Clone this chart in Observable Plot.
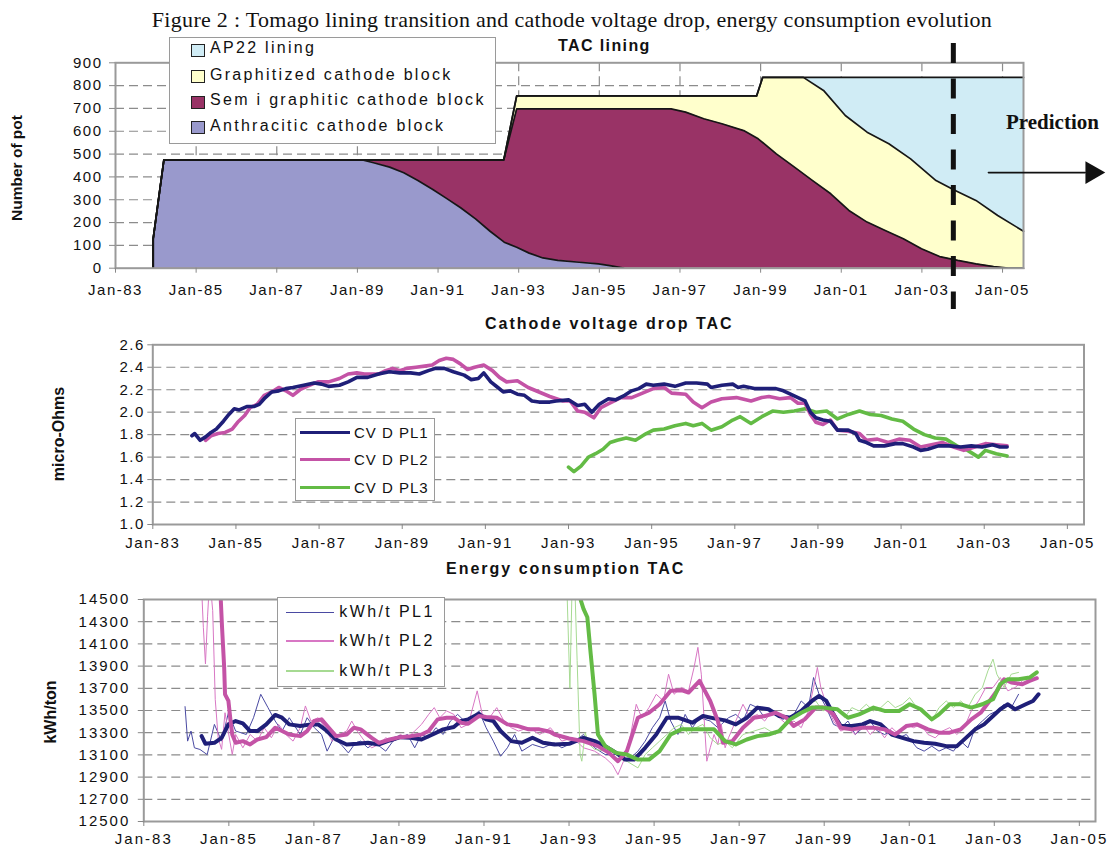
<!DOCTYPE html>
<html><head><meta charset="utf-8">
<script src="https://cdn.jsdelivr.net/npm/d3@7"></script>
<script src="https://cdn.jsdelivr.net/npm/@observablehq/plot@0.6"></script>
<style>
body{margin:0;background:#fff;}
#fig{position:relative;width:1108px;height:852px;overflow:hidden;background:#fff;color:#111;font-family:"Liberation Sans",Arial,sans-serif;}
.txt{position:absolute;white-space:nowrap;line-height:1;}
.box{position:absolute;background:#fff;border:1.5px solid #9a9a9a;box-sizing:border-box;}
.sw{position:absolute;box-sizing:border-box;border:1.2px solid #222;}
.ln{position:absolute;}
</style></head>
<body><div id="fig"></div>
<script>
// ---------- tick labels ----------
const yearTicks = [1983,1985,1987,1989,1991,1993,1995,1997,1999,2001,2003,2005];
const yearLabels = ["Jan-83","Jan-85","Jan-87","Jan-89","Jan-91","Jan-93","Jan-95","Jan-97","Jan-99","Jan-01","Jan-03","Jan-05"];
const potTicks = [0,100,200,300,400,500,600,700,800,900];
const cvdTicks = [1.0,1.2,1.4,1.6,1.8,2.0,2.2,2.4,2.6];
const kwhTicks = [12500,12700,12900,13100,13300,13500,13700,13900,14100,14300,14500];

// ---------- panel 1: number of pots (cumulative layer tops), [year, pots] ----------
const liningTotal = [[1983.935,0],[1983.935,130],[1984.2,475],[1992.63,475],[1992.95,755],[1998.9,755],[1999.05,836],[2005.52,836]];
const graphitizedTop = [[1983.935,0],[1983.935,130],[1984.2,475],[1992.63,475],[1992.95,755],[1998.9,755],[1999.05,836],[2000.06,836],[2000.56,779],[2001.1,669],[2001.64,596],[2002.18,545],[2002.72,479],[2003.35,384],[2003.8,343],[2004.34,297],[2004.88,231],[2005.52,162]];
const semigraphiticTop = [[1983.935,0],[1983.935,130],[1984.2,475],[1992.63,475],[1992.95,698],[1996.78,698],[1997.14,684],[1997.59,655],[1998.04,633],[1998.58,603],[1998.94,567],[1999.39,501],[1999.84,443],[2000.29,384],[2000.74,326],[2001.19,253],[2001.64,202],[2002.09,165],[2002.54,129],[2002.99,85],[2003.44,51],[2003.89,34],[2004.34,19],[2004.78,7],[2005.14,0],[2005.52,0]];
const anthraciticTop = [[1983.935,0],[1983.935,130],[1984.2,475],[1989.1,475],[1989.4,462],[1989.8,443],[1990.15,418],[1990.5,384],[1990.87,345],[1991.2,307],[1991.56,265],[1991.93,216],[1992.29,162],[1992.64,114],[1992.95,92],[1993.26,66],[1993.6,45],[1993.97,34],[1994.5,26],[1994.98,19],[1995.3,10],[1995.6,0]];
const liningNames = ["AP22 lining","Graphitized cathode block","Sem i graphitic cathode block","Anthracitic cathode block"];
const liningColors = ["#d0ecf5","#ffffcc","#993366","#9999cc"];
const predictionYear = 2003.78;
const predictionArrow = [[2004.65,419],[2007.05,419]];
const arrowHead = [[2007.22,419]];

// ---------- panel 2: cathode voltage drop, [year, micro-ohms] ----------
const cvdPL1 = [[1983.94,1.79],[1984.01,1.81],[1984.14,1.75],[1984.27,1.78],[1984.40,1.82],[1984.53,1.85],[1984.70,1.92],[1984.83,1.98],[1984.96,2.03],[1985.08,2.02],[1985.26,2.05],[1985.43,2.05],[1985.56,2.07],[1985.68,2.12],[1985.86,2.18],[1986.03,2.19],[1986.20,2.21],[1986.37,2.22],[1986.63,2.24],[1986.88,2.26],[1987.06,2.25],[1987.23,2.23],[1987.49,2.24],[1987.70,2.27],[1987.91,2.31],[1988.17,2.31],[1988.43,2.34],[1988.69,2.36],[1988.94,2.35],[1989.20,2.35],[1989.41,2.34],[1989.63,2.37],[1989.80,2.39],[1990.01,2.39],[1990.23,2.36],[1990.49,2.33],[1990.66,2.29],[1990.83,2.30],[1990.96,2.35],[1991.13,2.27],[1991.30,2.22],[1991.43,2.18],[1991.60,2.19],[1991.77,2.16],[1991.94,2.15],[1992.12,2.10],[1992.29,2.09],[1992.55,2.09],[1992.70,2.10],[1993.00,2.11],[1993.22,2.06],[1993.39,2.07],[1993.56,2.00],[1993.74,2.07],[1993.96,2.12],[1994.13,2.11],[1994.35,2.15],[1994.52,2.19],[1994.69,2.21],[1994.87,2.25],[1995.04,2.24],[1995.30,2.25],[1995.56,2.23],[1995.82,2.26],[1996.08,2.26],[1996.34,2.25],[1996.43,2.22],[1996.69,2.24],[1996.95,2.25],[1997.08,2.22],[1997.21,2.23],[1997.47,2.21],[1997.73,2.21],[1997.99,2.21],[1998.17,2.19],[1998.34,2.16],[1998.52,2.13],[1998.69,2.10],[1998.82,2.00],[1998.95,1.95],[1999.12,1.93],[1999.30,1.92],[1999.47,1.84],[1999.73,1.84],[1999.91,1.81],[2000.00,1.75],[2000.17,1.73],[2000.34,1.70],[2000.60,1.70],[2000.86,1.72],[2001.04,1.72],[2001.30,1.69],[2001.47,1.66],[2001.64,1.67],[2001.90,1.70],[2002.17,1.70],[2002.43,1.69],[2002.69,1.70],[2002.95,1.69],[2003.20,1.71],[2003.38,1.69],[2003.55,1.69]];
const cvdPL2 = [[1984.27,1.75],[1984.40,1.79],[1984.57,1.81],[1984.74,1.82],[1984.91,1.85],[1985.04,1.91],[1985.21,1.97],[1985.34,2.04],[1985.51,2.07],[1985.68,2.15],[1985.86,2.18],[1986.03,2.22],[1986.20,2.19],[1986.37,2.15],[1986.54,2.20],[1986.71,2.23],[1986.97,2.27],[1987.23,2.27],[1987.49,2.30],[1987.70,2.34],[1987.91,2.35],[1988.09,2.34],[1988.26,2.34],[1988.43,2.34],[1988.60,2.37],[1988.77,2.39],[1988.94,2.37],[1989.11,2.39],[1989.33,2.40],[1989.54,2.41],[1989.72,2.42],[1989.89,2.46],[1990.06,2.48],[1990.23,2.47],[1990.40,2.43],[1990.57,2.38],[1990.74,2.40],[1990.96,2.42],[1991.17,2.37],[1991.34,2.31],[1991.51,2.27],[1991.77,2.28],[1992.03,2.22],[1992.29,2.18],[1992.55,2.14],[1992.87,2.10],[1993.04,2.10],[1993.22,2.01],[1993.39,2.00],[1993.61,1.95],[1993.78,2.04],[1993.99,2.08],[1994.26,2.13],[1994.52,2.13],[1994.78,2.17],[1995.04,2.21],[1995.30,2.22],[1995.48,2.17],[1995.82,2.16],[1996.00,2.09],[1996.21,2.04],[1996.43,2.09],[1996.69,2.12],[1997.04,2.13],[1997.39,2.10],[1997.65,2.13],[1997.82,2.14],[1998.08,2.12],[1998.34,2.13],[1998.52,2.08],[1998.69,2.08],[1998.82,1.98],[1998.95,1.91],[1999.12,1.89],[1999.30,1.93],[1999.47,1.84],[1999.73,1.83],[2000.00,1.81],[2000.17,1.75],[2000.43,1.76],[2000.69,1.73],[2000.95,1.76],[2001.21,1.75],[2001.47,1.69],[2001.73,1.71],[2001.99,1.73],[2002.26,1.69],[2002.51,1.66],[2002.77,1.69],[2003.03,1.72],[2003.29,1.71],[2003.55,1.70]];
const cvdPL3 = [[1993.00,1.51],[1993.13,1.47],[1993.30,1.52],[1993.48,1.60],[1993.65,1.63],[1993.83,1.67],[1994.00,1.73],[1994.17,1.75],[1994.39,1.77],[1994.61,1.75],[1994.87,1.81],[1995.04,1.84],[1995.30,1.85],[1995.56,1.88],[1995.82,1.90],[1996.00,1.88],[1996.21,1.90],[1996.43,1.84],[1996.69,1.87],[1996.95,1.93],[1997.13,1.96],[1997.39,1.90],[1997.65,1.96],[1997.91,2.01],[1998.17,2.00],[1998.43,2.01],[1998.69,2.03],[1998.95,2.00],[1999.21,2.01],[1999.47,1.94],[1999.73,1.98],[2000.00,2.01],[2000.26,1.98],[2000.52,1.97],[2000.78,1.94],[2001.04,1.92],[2001.30,1.85],[2001.56,1.80],[2001.82,1.77],[2002.08,1.76],[2002.34,1.70],[2002.60,1.66],[2002.86,1.60],[2003.03,1.66],[2003.29,1.63],[2003.55,1.61]];
const cvdNames = ["CV D PL1","CV D PL2","CV D PL3"];

// ---------- panel 3: energy consumption, [year, kWh/t] ----------
const kwhPL1 = [[1983.97,13535],[1984.03,13224],[1984.11,13315],[1984.19,13164],[1984.32,13149],[1984.49,13103],[1984.66,13375],[1984.83,13224],[1984.99,13480],[1985.16,13315],[1985.41,13284],[1985.58,13435],[1985.75,13646],[1985.92,13526],[1986.09,13405],[1986.25,13315],[1986.42,13435],[1986.68,13284],[1986.84,13435],[1987.01,13345],[1987.18,13284],[1987.31,13134],[1987.47,13254],[1987.64,13194],[1987.81,13118],[1987.98,13209],[1988.10,13224],[1988.27,13164],[1988.44,13209],[1988.69,13134],[1988.86,13224],[1989.03,13254],[1989.20,13284],[1989.37,13164],[1989.53,13284],[1989.70,13254],[1989.87,13345],[1990.04,13284],[1990.21,13405],[1990.38,13465],[1990.54,13405],[1990.71,13435],[1990.88,13496],[1991.05,13345],[1991.22,13224],[1991.39,13088],[1991.55,13164],[1991.72,13284],[1991.89,13134],[1992.14,13194],[1992.39,13164],[1992.65,13209],[1992.83,13164],[1993.09,13209],[1993.34,13284],[1993.60,13164],[1993.85,13103],[1994.11,13103],[1994.36,13043],[1994.62,13134],[1994.79,13224],[1994.96,13345],[1995.13,13435],[1995.26,13586],[1995.39,13405],[1995.56,13284],[1995.73,13465],[1995.90,13345],[1996.07,13435],[1996.32,13405],[1996.50,13345],[1996.75,13435],[1996.92,13465],[1997.09,13405],[1997.26,13556],[1997.43,13526],[1997.60,13435],[1997.77,13496],[1998.03,13420],[1998.29,13465],[1998.46,13586],[1998.63,13526],[1998.75,13797],[1998.88,13646],[1999.05,13526],[1999.22,13375],[1999.39,13345],[1999.56,13405],[1999.73,13284],[1999.91,13345],[2000.08,13405],[2000.25,13315],[2000.42,13284],[2000.59,13315],[2000.76,13254],[2000.93,13284],[2001.18,13164],[2001.35,13134],[2001.53,13179],[2001.70,13134],[2001.87,13164],[2002.04,13134],[2002.21,13224],[2002.38,13164],[2002.55,13345],[2002.72,13405],[2002.89,13465],[2003.06,13496],[2003.23,13556],[2003.40,13526],[2003.57,13646]];
const kwhPL2 = [[1984.36,14600],[1984.40,14250],[1984.45,13920],[1984.50,14350],[1984.55,14700],[1984.62,14400],[1984.68,13600],[1984.75,13250],[1984.83,13150],[1984.91,13480],[1984.99,13300],[1985.08,13103],[1985.16,13284],[1985.33,13164],[1985.50,13284],[1985.67,13224],[1985.83,13345],[1986.00,13254],[1986.17,13375],[1986.34,13284],[1986.51,13224],[1986.68,13345],[1986.80,13541],[1986.93,13405],[1987.10,13435],[1987.26,13345],[1987.43,13224],[1987.60,13284],[1987.77,13315],[1987.89,13405],[1988.02,13315],[1988.19,13224],[1988.36,13164],[1988.53,13194],[1988.69,13254],[1988.86,13224],[1989.03,13284],[1989.20,13254],[1989.37,13315],[1989.53,13375],[1989.70,13465],[1989.83,13526],[1989.96,13435],[1990.12,13496],[1990.29,13465],[1990.46,13345],[1990.63,13375],[1990.84,13677],[1990.96,13465],[1991.13,13435],[1991.30,13526],[1991.47,13405],[1991.64,13345],[1991.81,13315],[1992.06,13345],[1992.31,13284],[1992.56,13345],[1992.83,13224],[1993.09,13254],[1993.34,13164],[1993.60,13134],[1993.85,13073],[1994.02,13013],[1994.15,12922],[1994.28,13043],[1994.45,13284],[1994.58,13556],[1994.71,13435],[1994.88,13526],[1995.05,13646],[1995.22,13586],[1995.34,13827],[1995.47,13646],[1995.64,13707],[1995.81,13677],[1995.94,13888],[1996.03,14069],[1996.11,13827],[1996.24,13043],[1996.32,13164],[1996.41,13284],[1996.50,13194],[1996.58,13375],[1996.67,13164],[1996.75,13254],[1996.92,13405],[1997.09,13556],[1997.26,13435],[1997.43,13465],[1997.60,13405],[1997.77,13496],[1997.94,13435],[1998.12,13375],[1998.29,13405],[1998.46,13345],[1998.63,13496],[1998.75,13707],[1998.84,13888],[1998.92,13707],[1999.05,13556],[1999.22,13405],[1999.39,13315],[1999.56,13345],[1999.73,13284],[1999.91,13375],[2000.08,13284],[2000.25,13345],[2000.42,13254],[2000.59,13345],[2000.76,13284],[2000.93,13375],[2001.10,13345],[2001.27,13375],[2001.44,13284],[2001.61,13254],[2001.78,13315],[2001.95,13345],[2002.12,13284],[2002.29,13345],[2002.46,13496],[2002.63,13586],[2002.80,13707],[2002.97,13707],[2003.14,13797],[2003.32,13677],[2003.49,13707],[2003.66,13767]];
const kwhPL3 = [[1992.95,14600],[1993.02,13700],[1993.07,14600],[1993.13,14700],[1993.19,13950],[1993.26,13103],[1993.30,13043],[1993.38,13300],[1993.46,13200],[1993.60,13150],[1993.85,13134],[1994.11,13073],[1994.36,13043],[1994.62,12983],[1994.79,13103],[1994.96,13164],[1995.13,13224],[1995.30,13284],[1995.47,13345],[1995.64,13375],[1995.81,13284],[1995.98,13345],[1996.15,13375],[1996.32,13254],[1996.50,13194],[1996.67,13224],[1996.84,13164],[1997.09,13284],[1997.35,13315],[1997.60,13345],[1997.86,13284],[1998.12,13405],[1998.29,13465],[1998.46,13496],[1998.63,13556],[1998.80,13586],[1998.97,13496],[1999.14,13526],[1999.31,13496],[1999.48,13435],[1999.65,13526],[1999.82,13496],[1999.99,13556],[2000.16,13496],[2000.33,13526],[2000.50,13586],[2000.67,13526],[2000.84,13556],[2001.01,13616],[2001.18,13526],[2001.35,13465],[2001.53,13405],[2001.70,13526],[2001.87,13586],[2002.04,13526],[2002.21,13586],[2002.38,13526],[2002.55,13646],[2002.72,13707],[2002.85,13857],[2002.97,13963],[2003.06,13827],[2003.23,13707],[2003.40,13827],[2003.57,13843]];
const kwhPL1avg = [[1984.36,13269],[1984.45,13200],[1984.66,13209],[1984.83,13254],[1984.99,13375],[1985.16,13405],[1985.33,13384],[1985.50,13315],[1985.67,13315],[1985.88,13375],[1986.09,13460],[1986.25,13435],[1986.42,13375],[1986.68,13360],[1986.93,13375],[1987.10,13375],[1987.26,13330],[1987.52,13239],[1987.77,13194],[1988.02,13200],[1988.27,13209],[1988.53,13194],[1988.78,13230],[1989.03,13260],[1989.28,13254],[1989.53,13239],[1989.79,13284],[1990.04,13330],[1990.29,13351],[1990.46,13405],[1990.63,13420],[1990.88,13471],[1991.05,13420],[1991.22,13405],[1991.39,13315],[1991.64,13224],[1991.89,13209],[1992.14,13254],[1992.39,13209],[1992.66,13194],[1993.00,13200],[1993.34,13254],[1993.60,13224],[1993.85,13179],[1994.11,13118],[1994.32,13058],[1994.53,13058],[1994.79,13164],[1995.05,13284],[1995.30,13435],[1995.56,13435],[1995.90,13390],[1996.15,13450],[1996.41,13429],[1996.67,13411],[1996.92,13375],[1997.18,13435],[1997.43,13526],[1997.69,13511],[1997.94,13450],[1998.20,13435],[1998.46,13496],[1998.71,13586],[1998.88,13631],[1999.05,13586],[1999.22,13465],[1999.39,13360],[1999.65,13360],[1999.90,13375],[2000.08,13405],[2000.33,13375],[2000.59,13284],[2000.84,13254],[2001.10,13224],[2001.35,13209],[2001.61,13200],[2001.87,13179],[2002.12,13179],[2002.25,13224],[2002.55,13330],[2002.76,13375],[2002.97,13450],[2003.14,13511],[2003.32,13556],[2003.49,13511],[2003.74,13556],[2003.91,13586],[2004.04,13646]];
const kwhPL2avg = [[1984.78,15000],[1984.81,14500],[1984.84,14250],[1984.89,13888],[1984.91,13646],[1984.99,13586],[1985.04,13405],[1985.08,13284],[1985.16,13209],[1985.33,13224],[1985.50,13194],[1985.67,13239],[1985.88,13260],[1986.09,13345],[1986.25,13315],[1986.42,13284],[1986.68,13269],[1986.84,13315],[1987.01,13405],[1987.18,13420],[1987.35,13345],[1987.52,13269],[1987.77,13284],[1987.94,13345],[1988.10,13330],[1988.36,13254],[1988.53,13209],[1988.78,13239],[1989.03,13260],[1989.28,13269],[1989.53,13284],[1989.70,13315],[1989.91,13420],[1990.12,13435],[1990.29,13435],[1990.46,13390],[1990.63,13381],[1990.88,13450],[1991.05,13441],[1991.30,13435],[1991.55,13375],[1991.80,13360],[1992.05,13330],[1992.30,13330],[1992.55,13309],[1992.66,13284],[1993.00,13248],[1993.34,13224],[1993.68,13179],[1993.94,13118],[1994.15,13043],[1994.36,13134],[1994.62,13435],[1994.88,13480],[1995.13,13556],[1995.39,13677],[1995.64,13683],[1995.81,13662],[1996.07,13767],[1996.32,13586],[1996.50,13405],[1996.62,13209],[1996.84,13224],[1997.09,13345],[1997.35,13435],[1997.60,13450],[1997.86,13480],[1998.11,13435],[1998.28,13360],[1998.54,13420],[1998.80,13526],[1999.01,13526],[1999.22,13465],[1999.39,13345],[1999.65,13330],[1999.90,13345],[2000.16,13345],[2000.42,13330],[2000.67,13284],[2000.93,13360],[2001.18,13375],[2001.44,13330],[2001.70,13300],[2001.95,13300],[2002.21,13330],[2002.46,13420],[2002.68,13480],[2002.89,13586],[2003.06,13677],[2003.23,13782],[2003.40,13752],[2003.66,13737],[2003.83,13767],[2004.00,13791]];
const kwhPL3avg = [[1993.20,14800],[1993.27,14500],[1993.34,14416],[1993.43,14340],[1993.51,14008],[1993.60,13646],[1993.68,13284],[1993.85,13179],[1994.11,13118],[1994.36,13103],[1994.62,13058],[1994.88,13058],[1995.13,13134],[1995.39,13284],[1995.64,13330],[1995.90,13330],[1996.15,13330],[1996.41,13330],[1996.67,13224],[1996.92,13194],[1997.18,13239],[1997.43,13269],[1997.69,13284],[1997.94,13315],[1998.20,13420],[1998.46,13480],[1998.71,13526],[1998.97,13526],[1999.31,13511],[1999.56,13435],[1999.82,13465],[2000.16,13526],[2000.42,13496],[2000.76,13496],[2001.01,13556],[2001.27,13511],[2001.53,13420],[2001.70,13465],[2001.95,13556],[2002.21,13556],[2002.46,13526],[2002.72,13556],[2002.97,13601],[2003.14,13737],[2003.32,13782],[2003.57,13782],[2003.83,13797],[2004.00,13843]];
const kwhNames = ["kWh/t PL1","kWh/t PL2","kWh/t PL3"];

const lineColors = ["#1f1f78","#c453a6","#63bb45"];
const thinColors = ["#4a4aa2","#d877c4","#a6da92"];

// ---------- helpers ----------
const fig = document.getElementById("fig");
const SANS = '"Liberation Sans", Arial, sans-serif';
const SERIF = '"Liberation Serif", "Times New Roman", serif';
const X = d => d[0], Y = d => d[1];
const fmtYear = d => yearLabels[yearTicks.indexOf(d)];
const gridStyle = {stroke: "#8c8c8c", strokeOpacity: 1, strokeWidth: 1.2, strokeDasharray: "9,5"};

function place(svg, top) {
  svg.style.position = "absolute"; svg.style.left = "0px"; svg.style.top = top + "px";
  fig.appendChild(svg);
}
function text(str, o) {
  const el = document.createElement("div");
  el.className = "txt"; el.textContent = str;
  const k = o.family === SERIF ? 0.8375 : 0.846;
  el.style.left = o.x + "px";
  el.style.top = (o.baseline - k * o.size) + "px";
  el.style.fontSize = o.size + "px";
  el.style.fontFamily = o.family || SANS;
  el.style.fontWeight = o.weight || "normal";
  el.style.letterSpacing = (o.ls || 0) + "px";
  if (o.anchor === "middle") el.style.transform = "translateX(-50%)";
  fig.appendChild(el);
}
function vtext(str, cx, cy, size) {
  const el = document.createElement("div");
  el.className = "txt"; el.textContent = str;
  Object.assign(el.style, {left: cx + "px", top: cy + "px", fontSize: size + "px", fontWeight: "bold",
    fontFamily: SANS, transform: "translate(-50%,-50%) rotate(-90deg)"});
  fig.appendChild(el);
}
function rect(cls, x, y, w, h, bg) {
  const el = document.createElement("div");
  el.className = cls;
  Object.assign(el.style, {left: x + "px", top: y + "px", width: w + "px", height: h + "px", background: bg});
  fig.appendChild(el);
}

// ---------- panel 1 ----------
const p1 = Plot.plot({
  width: 1108, height: 310,
  marginLeft: 115, marginRight: 85, marginTop: 62.3, marginBottom: 42.3,
  style: {fontFamily: SANS, fontSize: "15px", letterSpacing: "1.5px", color: "#111", background: "transparent", overflow: "visible"},
  x: {domain: [1983, 2005.52]},
  y: {domain: [0, 900]},
  marks: [
    Plot.gridY(potTicks.slice(1, -1), gridStyle),
    Plot.gridX(yearTicks.slice(1), gridStyle),
    Plot.areaY(liningTotal, {x: X, y: Y, fill: liningColors[0]}),
    Plot.areaY(graphitizedTop, {x: X, y: Y, fill: liningColors[1]}),
    Plot.areaY(semigraphiticTop, {x: X, y: Y, fill: liningColors[2]}),
    Plot.areaY(anthraciticTop, {x: X, y: Y, fill: liningColors[3]}),
    Plot.line(liningTotal, {x: X, y: Y, stroke: "#161616", strokeWidth: 1.7}),
    Plot.line(graphitizedTop, {x: X, y: Y, stroke: "#161616", strokeWidth: 1.7}),
    Plot.line(semigraphiticTop, {x: X, y: Y, stroke: "#161616", strokeWidth: 1.7}),
    Plot.line(anthraciticTop, {x: X, y: Y, stroke: "#161616", strokeWidth: 1.7}),
    Plot.frame({stroke: "#9a9a9a", strokeWidth: 2}),
    Plot.axisY(potTicks, {tickSize: 6, tickPadding: 7, stroke: "#888", fill: "#111", label: null}),
    Plot.axisX(yearTicks, {tickSize: 5, tickPadding: 11, tickFormat: fmtYear, stroke: "#888", fill: "#111", label: null}),
    Plot.ruleX([predictionYear], {stroke: "#111", strokeWidth: 5, strokeDasharray: "20,15.5", insetTop: -19.3, insetBottom: -41.3}),
    Plot.line(predictionArrow, {x: X, y: Y, stroke: "#111", strokeWidth: 1.6}),
    Plot.dot(arrowHead, {x: X, y: Y, symbol: "triangle", r: 8.5, fill: "#111", stroke: "none", rotate: 90})
  ]
});
place(p1, 0);

// ---------- panel 2 ----------
const p2 = Plot.plot({
  width: 1108, height: 250,
  marginLeft: 152.3, marginRight: 24.5, marginTop: 34.3, marginBottom: 36,
  style: {fontFamily: SANS, fontSize: "15px", letterSpacing: "1.5px", color: "#111", background: "transparent", overflow: "visible"},
  x: {domain: [1983, 2005.40]},
  y: {domain: [1.0, 2.6]},
  marks: [
    Plot.gridY(cvdTicks.slice(1, -1), gridStyle),
    Plot.line(cvdPL3, {x: X, y: Y, stroke: lineColors[2], strokeWidth: 3.6, strokeLinejoin: "round"}),
    Plot.line(cvdPL2, {x: X, y: Y, stroke: lineColors[1], strokeWidth: 3.6, strokeLinejoin: "round"}),
    Plot.line(cvdPL1, {x: X, y: Y, stroke: lineColors[0], strokeWidth: 3.6, strokeLinejoin: "round"}),
    Plot.frame({stroke: "#9a9a9a", strokeWidth: 2}),
    Plot.axisY(cvdTicks, {tickSize: 5, tickPadding: 3, tickFormat: d3.format(".1f"), stroke: "#888", fill: "#111", label: null}),
    Plot.axisX(yearTicks, {tickSize: 5, tickPadding: 8, tickFormat: fmtYear, stroke: "#888", fill: "#111", label: null})
  ]
});
place(p2, 310);

// ---------- panel 3 ----------
const p3 = Plot.plot({
  width: 1108, height: 292,
  marginLeft: 143.3, marginRight: 13, marginTop: 39, marginBottom: 31,
  style: {fontFamily: SANS, fontSize: "15px", letterSpacing: "2px", color: "#111", background: "transparent", overflow: "visible"},
  x: {domain: [1983, 2005.38]},
  y: {domain: [12500, 14500]},
  marks: [
    Plot.gridY(kwhTicks.slice(1, -1), gridStyle),
    Plot.line(kwhPL1, {x: X, y: Y, stroke: thinColors[0], strokeWidth: 1, clip: true}),
    Plot.line(kwhPL2, {x: X, y: Y, stroke: thinColors[1], strokeWidth: 1, clip: true}),
    Plot.line(kwhPL3, {x: X, y: Y, stroke: thinColors[2], strokeWidth: 1, clip: true}),
    Plot.line(kwhPL1avg, {x: X, y: Y, stroke: lineColors[0], strokeWidth: 4, strokeLinejoin: "round", clip: true}),
    Plot.line(kwhPL2avg, {x: X, y: Y, stroke: lineColors[1], strokeWidth: 4, strokeLinejoin: "round", clip: true}),
    Plot.line(kwhPL3avg, {x: X, y: Y, stroke: lineColors[2], strokeWidth: 4, strokeLinejoin: "round", clip: true}),
    Plot.frame({stroke: "#9a9a9a", strokeWidth: 2}),
    Plot.axisY(kwhTicks, {tickSize: 5.5, tickPadding: 8, tickFormat: d3.format("d"), stroke: "#888", fill: "#111", label: null}),
    Plot.axisX(yearTicks, {tickSize: 5, tickPadding: 7, tickFormat: fmtYear, stroke: "#888", fill: "#111", label: null})
  ]
});
place(p3, 560);

// ---------- titles & labels ----------
text("Figure 2 : Tomago lining transition and cathode voltage drop, energy consumption evolution",
  {x: 572, baseline: 27, size: 22, family: SERIF, anchor: "middle", ls: 0.3});
text("TAC lining", {x: 558, baseline: 52, size: 16, weight: "bold", ls: 1.4});
text("Prediction", {x: 1006, baseline: 129.5, size: 21, weight: "bold", family: SERIF});
text("Cathode voltage drop TAC", {x: 485, baseline: 330, size: 16, weight: "bold", ls: 2});
text("Energy consumption TAC", {x: 446, baseline: 575, size: 16, weight: "bold", ls: 2});
vtext("Number of pot", 16.5, 168, 15.5);
vtext("micro-Ohms", 58.5, 434, 16);
vtext("kWh/ton", 50.5, 712, 16);

// ---------- legend panel 1 ----------
rect("box", 168.6, 36.7, 327.8, 107.3, "#fff");
const l1Base = [54, 80.5, 106, 131.5];
liningNames.forEach((n, i) => {
  rect("sw", 191, l1Base[i] - 10.5, 14, 13, liningColors[i]);
  text(n, {x: 210, baseline: l1Base[i], size: 16, ls: 2.3});
});

// ---------- legend panel 2 ----------
rect("box", 294.6, 418.3, 140.4, 82.7, "#fff");
const l2Line = [432.7, 459.3, 487.3];
cvdNames.forEach((n, i) => {
  rect("ln", 300, l2Line[i] - 1.8, 50, 3.6, lineColors[i]);
  text(n, {x: 354, baseline: l2Line[i] + 5, size: 15, ls: 1});
});

// ---------- legend panel 3 ----------
rect("box", 276.8, 596.7, 167.8, 90, "#fff");
const l3Line = [612.3, 641, 671];
kwhNames.forEach((n, i) => {
  rect("ln", 286, l3Line[i] - 0.75, 48, 1.5, thinColors[i]);
  text(n, {x: 339.3, baseline: l3Line[i] + 5.5, size: 16, ls: 2.4});
});
</script>
</body></html>
